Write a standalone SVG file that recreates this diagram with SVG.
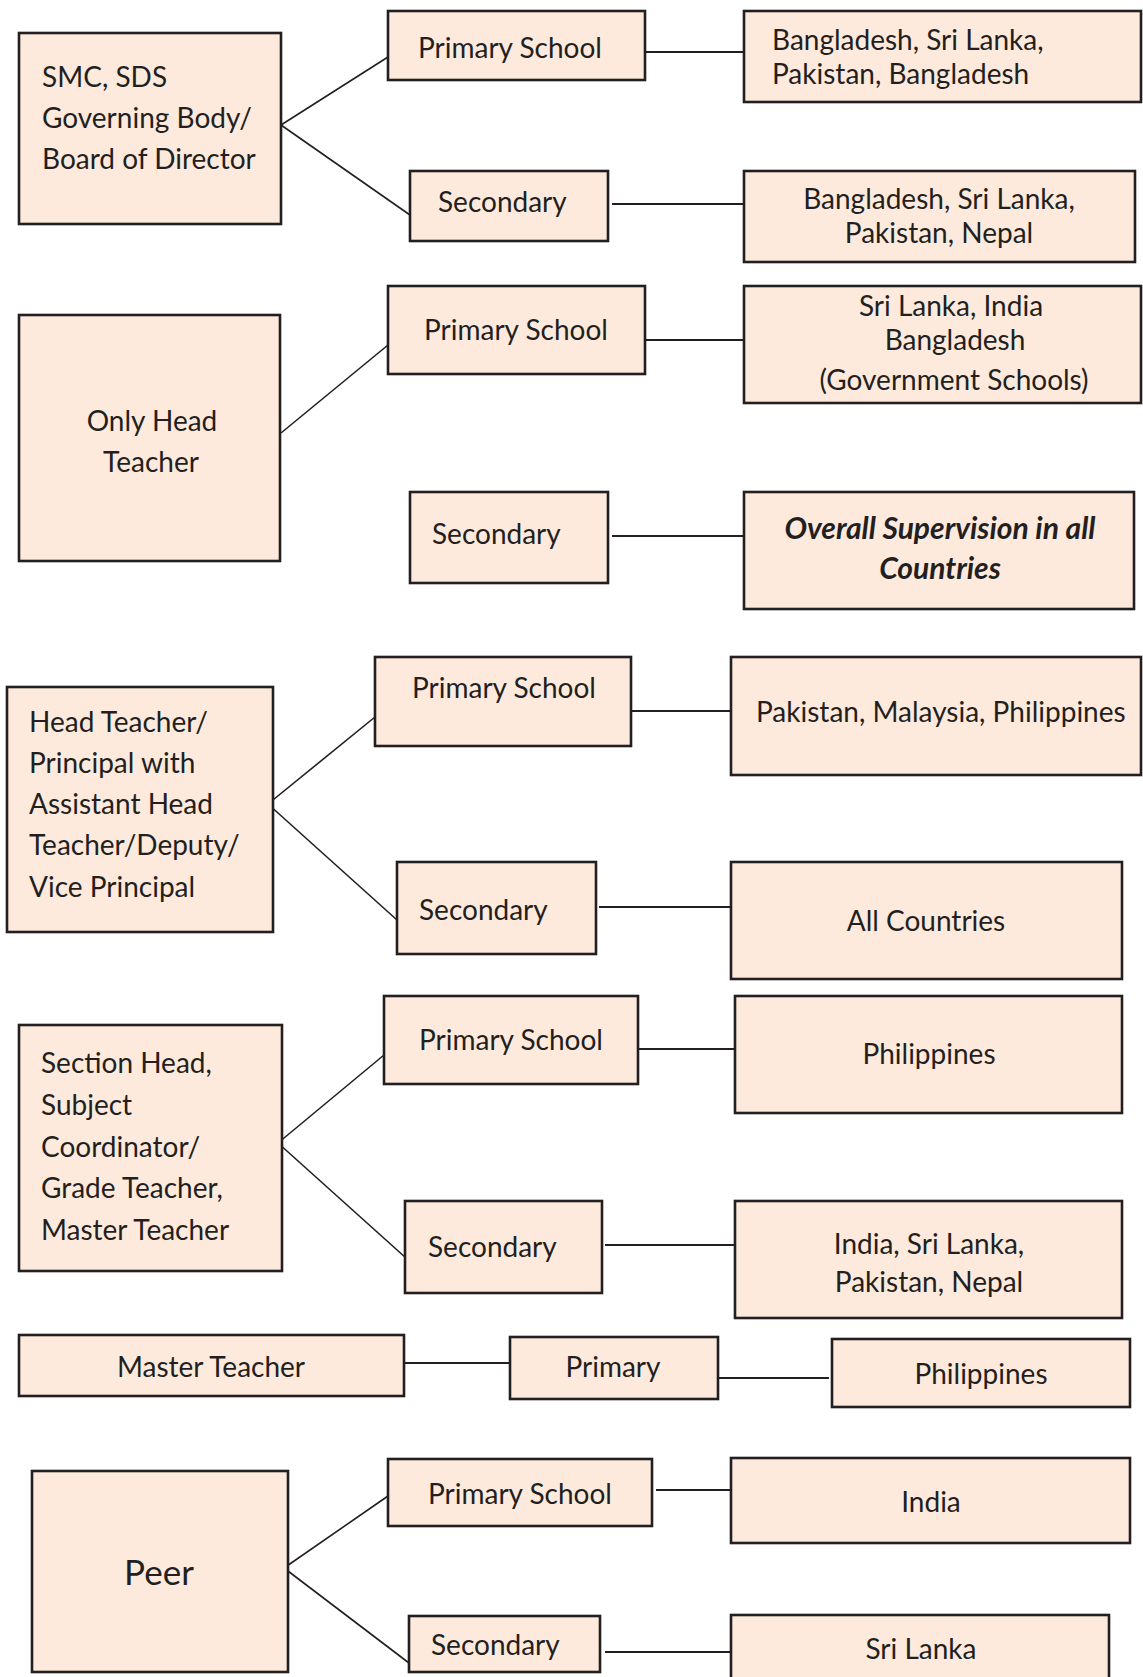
<svg xmlns="http://www.w3.org/2000/svg" width="1143" height="1677" viewBox="0 0 1143 1677">
<style>
.b{fill:#fdeadd;stroke:#231f20;stroke-width:2.6}
.t{font-family:Lato,"Open Sans","Liberation Sans",sans-serif;font-size:28px;fill:#231f20;transform:translateY(1.5px)}
.m{text-anchor:middle}
.bi{font-weight:bold;font-style:italic;font-size:30px}
.c line{stroke:#231f20;stroke-width:2}
.c .d{stroke-width:1.6}
</style>
<rect width="1143" height="1677" fill="#ffffff"/>
<g class="c" id="connectors">
<line class="d" x1="281" y1="125" x2="388" y2="57"/>
<line class="d" x1="281" y1="125" x2="410" y2="215"/>
<line x1="645" y1="52" x2="744" y2="52"/>
<line x1="612" y1="204" x2="744" y2="204"/>
<line class="d" x1="281" y1="433" x2="388" y2="345"/>
<line x1="645" y1="340" x2="744" y2="340"/>
<line x1="612" y1="536" x2="744" y2="536"/>
<line class="d" x1="268" y1="804" x2="375" y2="717"/>
<line class="d" x1="268" y1="804" x2="397" y2="920"/>
<line x1="631" y1="711" x2="731" y2="711"/>
<line x1="599" y1="907" x2="731" y2="907"/>
<line class="d" x1="278" y1="1143" x2="384" y2="1055"/>
<line class="d" x1="278" y1="1143" x2="406" y2="1258"/>
<line x1="638" y1="1049" x2="735" y2="1049"/>
<line x1="605" y1="1245" x2="735" y2="1245"/>
<line x1="404" y1="1363" x2="510" y2="1363"/>
<line x1="718" y1="1378" x2="829" y2="1378"/>
<line class="d" x1="284" y1="1568" x2="388" y2="1496"/>
<line class="d" x1="284" y1="1568" x2="409" y2="1663"/>
<line x1="656" y1="1490" x2="731" y2="1490"/>
<line x1="605" y1="1652" x2="731" y2="1652"/>
</g>
<g id="smc"><rect class="b" x="19" y="33" width="262" height="191"/>
<text class="t" x="42" y="85">SMC, SDS</text><text class="t" x="42" y="126">Governing Body/</text><text class="t" x="42" y="167">Board of Director</text></g>
<g id="p1"><rect class="b" x="388" y="11" width="257" height="69"/><text class="t" x="418" y="56">Primary School</text></g>
<g id="s1"><rect class="b" x="410" y="171" width="198" height="70"/><text class="t" x="438" y="210">Secondary</text></g>
<g id="c1"><rect class="b" x="744" y="11" width="397" height="91"/><text class="t" x="772" y="48">Bangladesh, Sri Lanka,</text><text class="t" x="772" y="82">Pakistan, Bangladesh</text></g>
<g id="c2"><rect class="b" x="744" y="171" width="391" height="91"/><text class="t m" x="939" y="207">Bangladesh, Sri Lanka,</text><text class="t m" x="939" y="241">Pakistan, Nepal</text></g>

<g id="oht"><rect class="b" x="19" y="315" width="261" height="246"/><text class="t m" x="152" y="429">Only Head</text><text class="t m" x="151" y="470">Teacher</text></g>
<g id="p2"><rect class="b" x="388" y="286" width="257" height="88"/><text class="t m" x="516" y="338">Primary School</text></g>
<g id="s2"><rect class="b" x="410" y="492" width="198" height="91"/><text class="t" x="432" y="542">Secondary</text></g>
<g id="c3"><rect class="b" x="744" y="286" width="397" height="117"/><text class="t m" x="951" y="314">Sri Lanka, India</text><text class="t m" x="955" y="348">Bangladesh</text><text class="t m" x="954" y="388">(Government Schools)</text></g>
<g id="c4"><rect class="b" x="744" y="492" width="390" height="117"/><text class="t m bi" x="940" y="537">Overall Supervision in all</text><text class="t m bi" x="940" y="577">Countries</text></g>

<g id="ht"><rect class="b" x="7" y="687" width="266" height="245"/>
<text class="t" x="29" y="730">Head Teacher/</text><text class="t" x="29" y="771">Principal with</text><text class="t" x="29" y="812">Assistant Head</text><text class="t" x="29" y="853">Teacher/Deputy/</text><text class="t" x="29" y="895">Vice Principal</text></g>
<g id="p3"><rect class="b" x="375" y="657" width="256" height="89"/><text class="t m" x="504" y="696">Primary School</text></g>
<g id="s3"><rect class="b" x="397" y="862" width="199" height="92"/><text class="t" x="419" y="918">Secondary</text></g>
<g id="c5"><rect class="b" x="731" y="657" width="410" height="118"/><text class="t" x="756" y="720">Pakistan, Malaysia, Philippines</text></g>
<g id="c6"><rect class="b" x="731" y="862" width="391" height="117"/><text class="t m" x="926" y="929">All Countries</text></g>

<g id="sh"><rect class="b" x="19" y="1025" width="263" height="246"/>
<text class="t" x="41" y="1071">Section Head,</text><text class="t" x="41" y="1113">Subject</text><text class="t" x="41" y="1155">Coordinator/</text><text class="t" x="41" y="1196">Grade Teacher,</text><text class="t" x="41" y="1238">Master Teacher</text></g>
<g id="p4"><rect class="b" x="384" y="996" width="254" height="88"/><text class="t m" x="511" y="1048">Primary School</text></g>
<g id="s4"><rect class="b" x="405" y="1201" width="197" height="92"/><text class="t" x="428" y="1255">Secondary</text></g>
<g id="c7"><rect class="b" x="735" y="996" width="387" height="117"/><text class="t m" x="929" y="1062">Philippines</text></g>
<g id="c8"><rect class="b" x="735" y="1201" width="387" height="117"/><text class="t m" x="929" y="1252">India, Sri Lanka,</text><text class="t m" x="929" y="1290">Pakistan, Nepal</text></g>

<g id="mt"><rect class="b" x="19" y="1335" width="385" height="61"/><text class="t m" x="211" y="1375">Master Teacher</text></g>
<g id="p5"><rect class="b" x="510" y="1337" width="208" height="62"/><text class="t m" x="613" y="1375">Primary</text></g>
<g id="c9"><rect class="b" x="832" y="1339" width="298" height="68"/><text class="t m" x="981" y="1382">Philippines</text></g>

<g id="peer"><rect class="b" x="32" y="1471" width="256" height="201"/><text class="t m" x="159" y="1583" style="font-size:35px">Peer</text></g>
<g id="p6"><rect class="b" x="388" y="1459" width="264" height="67"/><text class="t m" x="520" y="1502">Primary School</text></g>
<g id="s6"><rect class="b" x="409" y="1616" width="191" height="56"/><text class="t" x="431" y="1653">Secondary</text></g>
<g id="c10"><rect class="b" x="731" y="1458" width="399" height="85"/><text class="t m" x="931" y="1510">India</text></g>
<g id="c11"><rect class="b" x="731" y="1615" width="378" height="80"/><text class="t m" x="921" y="1657">Sri Lanka</text></g>
</svg>
